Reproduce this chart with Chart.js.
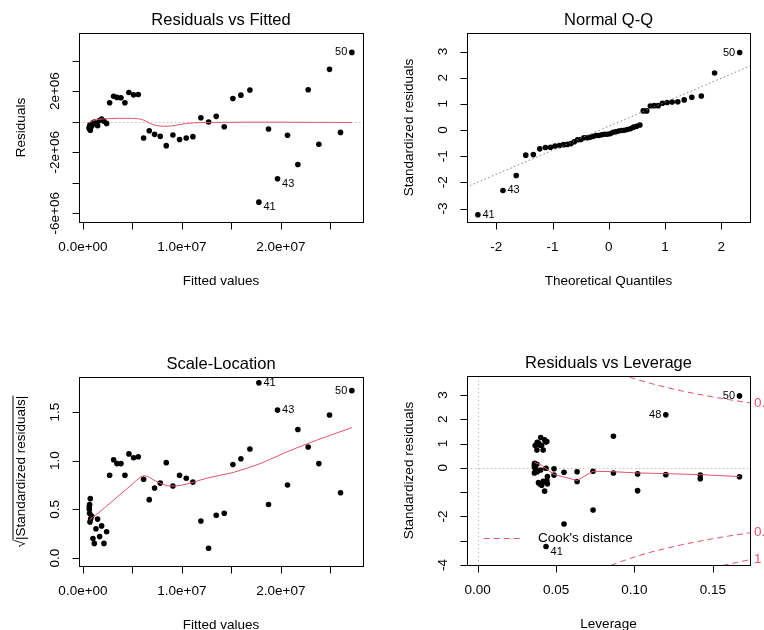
<!DOCTYPE html>
<html><head><meta charset="utf-8">
<script src="https://cdn.jsdelivr.net/npm/chart.js@4/dist/chart.umd.min.js"></script>
<style>
html,body{margin:0;padding:0;background:#fff;}
#wrap{position:relative;width:764px;height:630px;overflow:hidden;background:#fff;}
canvas{position:absolute;}
</style></head><body>
<div id="wrap">
<canvas id="c1" width="382" height="315" style="left:0;top:0"></canvas>
<canvas id="c2" width="382" height="315" style="left:382px;top:0"></canvas>
<canvas id="c3" width="382" height="315" style="left:0;top:315px"></canvas>
<canvas id="c4" width="382" height="315" style="left:382px;top:315px"></canvas>
</div>
<script>
// ---------- DATA (observations 1..50) ----------
const fittedValues = [741000, 673000, 640000, 640000, 673000, 707000, 774000, 875000, 1010000, 1145000,
  1313000, 1481000, 1684000, 1886000, 2121000, 2391000, 2694000, 3098000, 3434000, 3838000,
  4242000, 4646000, 5118000, 5589000, 6128000, 6700000, 7239000, 7811000, 8418000, 9091000,
  9764000, 10438000, 11111000, 11919000, 12694000, 13468000, 14276000, 15152000, 15960000, 16869000,
  17778000, 18754000, 19663000, 20673000, 21717000, 22761000, 23838000, 24916000, 26027000, 27172000];
const residualValues = [-560000, -460000, -440000, -390000, -330000, -220000, -260000, -290000, -65000, -30000,
  -150000, -260000, 80000, 180000, 30000, -110000, 1240000, 1670000, 1590000, 1565000,
  1240000, 1910000, 1760000, 1780000, -1070000, -590000, -830000, -960000, -1570000, -870000,
  -1170000, -1070000, -980000, 260000, -20000, 350000, -330000, 1520000, 1740000, 2070000,
  -5270000, -480000, -3740000, -890000, -2800000, 2090000, -1480000, 3430000, -700000, 4540000];
const sqrtAbsStdResiduals = [0.61, 0.55, 0.53, 0.50, 0.46, 0.37, 0.40, 0.43, 0.20, 0.15,
  0.30, 0.40, 0.22, 0.33, 0.15, 0.27, 0.85, 1.01, 0.97, 0.97,
  0.85, 1.07, 1.03, 1.04, 0.81, 0.60, 0.72, 0.77, 0.98, 0.74,
  0.85, 0.82, 0.78, 0.38, 0.10, 0.44, 0.46, 0.96, 1.02, 1.12,
  1.80, 0.55, 1.52, 0.75, 1.32, 1.14, 0.97, 1.47, 0.67, 1.72];
const stdResiduals = [-0.37, -0.30, -0.28, -0.25, -0.21, -0.14, -0.16, -0.18, -0.04, -0.02,
  -0.09, -0.16, 0.05, 0.11, 0.02, -0.07, 0.73, 1.02, 0.93, 0.93,
  0.73, 1.15, 1.07, 1.08, -0.66, -0.36, -0.52, -0.59, -0.96, -0.55,
  -0.72, -0.67, -0.61, 0.145, -0.01, 0.19, -0.21, 0.92, 1.05, 1.25,
  -3.24, -0.30, -2.31, -0.56, -1.74, 1.30, -0.94, 2.18, -0.45, 2.96];
const leverageValues = [0.167, 0.142, 0.120, 0.102, 0.0866, 0.0736, 0.0634, 0.0551, 0.0487, 0.0436,
  0.0402, 0.0380, 0.0367, 0.0362, 0.0363, 0.0369, 0.0378, 0.0388, 0.0398, 0.0408,
  0.0418, 0.0427, 0.0435, 0.0441, 0.0445, 0.0445, 0.0441, 0.0435, 0.0427, 0.0418,
  0.0408, 0.0398, 0.0388, 0.0378, 0.0369, 0.0363, 0.0362, 0.0367, 0.0380, 0.0402,
  0.0436, 0.0487, 0.0551, 0.0634, 0.0736, 0.0866, 0.102, 0.120, 0.142, 0.167];

// Normal Q-Q
const theoreticalQuantiles = [-2.3263, -1.8808, -1.6449, -1.4758, -1.3408, -1.2265, -1.1264, -1.0364, -0.9542, -0.8779,
  -0.8064, -0.7388, -0.6745, -0.6128, -0.5534, -0.4959, -0.4399, -0.3853, -0.3319, -0.2793,
  -0.2275, -0.1764, -0.1257, -0.0753, -0.0251, 0.0251, 0.0753, 0.1257, 0.1764, 0.2275,
  0.2793, 0.3319, 0.3853, 0.4399, 0.4959, 0.5534, 0.6128, 0.6745, 0.7388, 0.8064,
  0.8779, 0.9542, 1.0364, 1.1264, 1.2265, 1.3408, 1.4758, 1.6449, 1.8808, 2.3263];
const sampleQuantiles = [-3.24, -2.31, -1.74, -0.96, -0.94, -0.72, -0.67, -0.66, -0.61, -0.59,
  -0.56, -0.55, -0.52, -0.45, -0.37, -0.36, -0.30, -0.30, -0.28, -0.25,
  -0.21, -0.21, -0.18, -0.16, -0.16, -0.14, -0.09, -0.07, -0.04, -0.02,
  -0.01, 0.02, 0.05, 0.11, 0.145, 0.19, 0.73, 0.73, 0.92, 0.93,
  0.93, 1.02, 1.05, 1.07, 1.08, 1.15, 1.25, 1.30, 2.18, 2.96];
const qqLineX = [-2.6, 2.6];
const qqLineY = [-2.244, 2.53];

// smoothers (red lines)
const rfSmoothX = [640000, 1000000, 1500000, 2500000, 3500000, 4500000, 5500000, 6100000, 6600000, 7100000,
  7800000, 8500000, 9500000, 10500000, 11900000, 14000000, 17000000, 20000000, 23000000, 27172000];
const rfSmoothY = [-60000, 60000, 150000, 200000, 220000, 220000, 200000, 110000, -50000, -200000,
  -280000, -300000, -220000, -110000, -60000, -40000, -30000, -30000, -40000, -50000];
const slSmoothX = [640000, 2000000, 3500000, 5000000, 5800000, 6100000, 6500000, 7000000, 7800000, 8800000,
  9800000, 11200000, 12500000, 15200000, 17900000, 20600000, 23600000, 27172000];
const slSmoothY = [0.39, 0.50, 0.63, 0.76, 0.83, 0.845, 0.84, 0.81, 0.77, 0.74,
  0.745, 0.78, 0.82, 0.88, 0.97, 1.09, 1.21, 1.34];
const rlSmoothX = [0.0362, 0.041, 0.0453, 0.0487, 0.0551, 0.0634, 0.0736, 0.0866, 0.102, 0.120, 0.142, 0.167];
const rlSmoothY = [0.23, 0.10, -0.11, -0.27, -0.38, -0.52, -0.14, -0.16, -0.21, -0.24, -0.28, -0.36];

// Cook's distance contours
const cookHalfLev = [0.085, 0.09, 0.095, 0.10, 0.11, 0.12, 0.13, 0.14, 0.15, 0.16, 0.17, 0.175];
const cookHalfUpper = [4.02, 3.89, 3.78, 3.67, 3.48, 3.32, 3.17, 3.04, 2.92, 2.81, 2.71, 2.66];
const cookHalfLower = [-4.02, -3.89, -3.78, -3.67, -3.48, -3.32, -3.17, -3.04, -2.92, -2.81, -2.71, -2.66];
const cookOneLev = [0.15, 0.155, 0.16, 0.165, 0.17, 0.175];
const cookOneLower = [-4.12, -4.04, -3.97, -3.90, -3.83, -3.76];

// ticks
const fittedTicks = [0, 5000000, 10000000, 15000000, 20000000, 25000000];
const fittedTickLabels = ["0.0e+00", "", "1.0e+07", "", "2.0e+07", ""];
const residTicks = [-6000000, -4000000, -2000000, 0, 2000000, 4000000];
const residTickLabels = ["-6e+06", "", "-2e+06", "", "2e+06", ""];
const qqXTicks = [-2, -1, 0, 1, 2];
const qqXTickLabels = ["-2", "-1", "0", "1", "2"];
const qqYTicks = [-3, -2, -1, 0, 1, 2, 3];
const qqYTickLabels = ["-3", "-2", "-1", "0", "1", "2", "3"];
const slYTicks = [0, 0.5, 1, 1.5];
const slYTickLabels = ["0.0", "0.5", "1.0", "1.5"];
const levTicks = [0, 0.05, 0.10, 0.15];
const levTickLabels = ["0.00", "0.05", "0.10", "0.15"];
const rlYTicks = [-4, -3, -2, -1, 0, 1, 2, 3];
const rlYTickLabels = ["-4", "", "-2", "", "0", "1", "2", "3"];

// ---------- RENDERING ----------
const FONT = '"Liberation Sans", Arial, Helvetica, sans-serif';
const RED = '#DF536B';
const AX = '13.5px ';

function zipXY(xs, ys){ return xs.map((x,i)=>({x:x, y:ys[i]})); }
function interp(xs, ys, v){
  for(let i=1;i<xs.length;i++){ if(v<=xs[i]){ const t=(v-xs[i-1])/(xs[i]-xs[i-1]); return ys[i-1]+t*(ys[i]-ys[i-1]); } }
  return ys[ys.length-1];
}
function pointsDS(xs, ys){
  return {data: zipXY(xs,ys), showLine:false, pointRadius:2.8, pointHoverRadius:2.8,
    pointBackgroundColor:'#000', pointBorderColor:'#000', pointBorderWidth:0, order:3};
}
function lineDS(xs, ys, color, dash, extra){
  return Object.assign({data: zipXY(xs,ys), showLine:true, pointRadius:0, pointHoverRadius:0,
    borderColor:color, borderWidth:1, borderDash:dash||[], fill:false, tension:0, order:1}, extra||{});
}

function makePanel(id, p){
  const plugin = {
    id: 'frame',
    beforeDatasetsDraw(chart){
      const {ctx, chartArea:a, scales:{x,y}} = chart;
      ctx.save();
      (p.refLines||[]).forEach(r=>{
        ctx.strokeStyle=r.color; ctx.lineWidth=1; ctx.setLineDash(r.dash);
        ctx.beginPath();
        if(r.h!==undefined){ const py=Math.round(y.getPixelForValue(r.h))+0.5; ctx.moveTo(a.left,py); ctx.lineTo(a.right,py); }
        else { const px=Math.round(x.getPixelForValue(r.v))+0.5; ctx.moveTo(px,a.top); ctx.lineTo(px,a.bottom); }
        ctx.stroke();
      });
      ctx.restore();
    },
    afterDraw(chart){
      const {ctx, chartArea:a, scales:{x,y}} = chart;
      ctx.save();
      ctx.setLineDash([]);
      ctx.strokeStyle='#000'; ctx.lineWidth=1;
      const L=Math.round(a.left)+0.5, T=Math.round(a.top)+0.5, R=Math.round(a.right)+0.5, B=Math.round(a.bottom)+0.5;
      ctx.strokeRect(L,T,R-L,B-T);
      ctx.beginPath();
      p.xTicks.forEach(v=>{ const px=Math.round(x.getPixelForValue(v))+0.5; ctx.moveTo(px,B); ctx.lineTo(px,B+7); });
      ctx.stroke();
      ctx.beginPath();
      p.yTicks.forEach(v=>{ const py=Math.round(y.getPixelForValue(v))+0.5; ctx.moveTo(L-7,py); ctx.lineTo(L,py); });
      ctx.stroke();
      ctx.fillStyle='#000';
      ctx.font=AX+FONT; ctx.textAlign='center'; ctx.textBaseline='middle';
      p.xTicks.forEach((v,i)=>{ if(p.xTickLabels[i]) ctx.fillText(p.xTickLabels[i], x.getPixelForValue(v), a.bottom+25.5); });
      p.yTicks.forEach((v,i)=>{
        if(!p.yTickLabels[i]) return;
        ctx.save(); ctx.translate(a.left-23.5, y.getPixelForValue(v)); ctx.rotate(-Math.PI/2);
        ctx.fillText(p.yTickLabels[i], 0, 0); ctx.restore();
      });
      ctx.fillText(p.xTitle, (a.left+a.right)/2, a.bottom+59);
      ctx.save(); ctx.translate(a.left-58, (a.top+a.bottom)/2); ctx.rotate(-Math.PI/2);
      if(p.sqrtTitle){
        ctx.textAlign='left';
        const s1='\u221A', s2=p.yTitle;
        const w1=ctx.measureText(s1).width, w2=ctx.measureText(s2).width;
        const x0=-(w1+w2)/2;
        ctx.fillText(s1,x0,0); ctx.fillText(s2,x0+w1,0);
        ctx.beginPath(); ctx.moveTo(x0+w1-0.5,-8); ctx.lineTo(x0+w1+w2,-8); ctx.stroke();
      } else {
        ctx.fillText(p.yTitle,0,0);
      }
      ctx.restore();
      ctx.font='16.5px '+FONT;
      ctx.fillText(p.title, (a.left+a.right)/2, a.top-12.5);
      ctx.font='11px '+FONT;
      const meta = chart.getDatasetMeta(p.pointDS);
      (p.pointLabels||[]).forEach(l=>{
        const el = meta.data[l.idx];
        if(l.side==='right'){ ctx.textAlign='left'; ctx.fillText(l.text, el.x+4.5, el.y+l.dy); }
        else { ctx.textAlign='right'; ctx.fillText(l.text, el.x-4.5, el.y+l.dy); }
      });
      if(p.extra) p.extra(chart, ctx, a, x, y);
      ctx.restore();
    }
  };
  new Chart(document.getElementById(id), {
    type:'scatter',
    data:{datasets:p.datasets},
    options:{
      responsive:false, animation:false, devicePixelRatio:1, events:[],
      layout:{padding:p.pad},
      plugins:{legend:{display:false}, tooltip:{enabled:false}, title:{display:false}},
      scales:{
        x:{type:'linear', display:false, min:p.xr[0], max:p.xr[1]},
        y:{type:'linear', display:false, min:p.yr[0], max:p.yr[1]}
      }
    },
    plugins:[plugin]
  });
}

// Panel 1: Residuals vs Fitted
makePanel('c1', {
  pad:{left:79, right:19, top:33, bottom:93},
  xr:[-400000, 28300000], yr:[-6570000, 5810000],
  datasets:[ lineDS(rfSmoothX, rfSmoothY, RED, [], {cubicInterpolationMode:'monotone'}), pointsDS(fittedValues, residualValues) ],
  pointDS:1,
  refLines:[{h:0, color:'#BEBEBE', dash:[1.5,2.5]}],
  xTicks:fittedTicks, xTickLabels:fittedTickLabels, yTicks:residTicks, yTickLabels:residTickLabels,
  xTitle:'Fitted values', yTitle:'Residuals', title:'Residuals vs Fitted',
  pointLabels:[{idx:40, text:'41', side:'right', dy:5}, {idx:42, text:'43', side:'right', dy:5}, {idx:49, text:'50', side:'left', dy:0}]
});

// Panel 2: Normal Q-Q
makePanel('c2', {
  pad:{left:85, right:14, top:33, bottom:93},
  xr:[-2.52, 2.51], yr:[-3.515, 3.707],
  datasets:[ lineDS(qqLineX, qqLineY, '#7F7F7F', [1.5,2.5]), pointsDS(theoreticalQuantiles, sampleQuantiles) ],
  pointDS:1,
  xTicks:qqXTicks, xTickLabels:qqXTickLabels, yTicks:qqYTicks, yTickLabels:qqYTickLabels,
  xTitle:'Theoretical Quantiles', yTitle:'Standardized residuals', title:'Normal Q-Q',
  pointLabels:[{idx:0, text:'41', side:'right', dy:0}, {idx:1, text:'43', side:'right', dy:0}, {idx:49, text:'50', side:'left', dy:0}]
});

// Panel 3: Scale-Location
makePanel('c3', {
  pad:{left:79, right:19, top:62, bottom:64},
  xr:[-400000, 28300000], yr:[-0.082, 1.860],
  datasets:[ lineDS(slSmoothX, slSmoothY, RED, [], {cubicInterpolationMode:'monotone'}), pointsDS(fittedValues, sqrtAbsStdResiduals) ],
  pointDS:1,
  xTicks:fittedTicks, xTickLabels:fittedTickLabels, yTicks:slYTicks, yTickLabels:slYTickLabels,
  xTitle:'Fitted values', yTitle:'|Standardized residuals|', sqrtTitle:true, title:'Scale-Location',
  pointLabels:[{idx:40, text:'41', side:'right', dy:0}, {idx:42, text:'43', side:'right', dy:0}, {idx:49, text:'50', side:'left', dy:0}]
});

// Panel 4: Residuals vs Leverage
makePanel('c4', {
  pad:{left:85, right:14, top:61, bottom:65},
  xr:[-0.0068, 0.1737], yr:[-4.0, 3.78],
  datasets:[
    lineDS(rlSmoothX, rlSmoothY, RED, []),
    lineDS(cookHalfLev, cookHalfUpper, RED, [6,4], {cubicInterpolationMode:'monotone'}),
    lineDS(cookHalfLev, cookHalfLower, RED, [6,4], {cubicInterpolationMode:'monotone'}),
    lineDS(cookOneLev, cookOneLower, RED, [6,4], {cubicInterpolationMode:'monotone'}),
    pointsDS(leverageValues, stdResiduals)
  ],
  pointDS:4,
  refLines:[{h:0, color:'#BEBEBE', dash:[1.5,2.5]}, {v:0, color:'#BEBEBE', dash:[1.5,2.5]}],
  xTicks:levTicks, xTickLabels:levTickLabels, yTicks:rlYTicks, yTickLabels:rlYTickLabels,
  xTitle:'Leverage', yTitle:'Standardized residuals', title:'Residuals vs Leverage',
  pointLabels:[{idx:40, text:'41', side:'right', dy:5}, {idx:47, text:'48', side:'left', dy:0}, {idx:49, text:'50', side:'left', dy:0}],
  extra:function(chart, ctx, a, x, y){
    const xe = x.max;
    ctx.fillStyle=RED; ctx.font=AX+FONT; ctx.textAlign='left'; ctx.textBaseline='middle';
    ctx.fillText('0.5', a.right+4, y.getPixelForValue(interp(cookHalfLev, cookHalfUpper, xe)));
    ctx.fillText('0.5', a.right+4, y.getPixelForValue(interp(cookHalfLev, cookHalfLower, xe)));
    ctx.fillText('1', a.right+4, y.getPixelForValue(interp(cookOneLev, cookOneLower, xe)));
    const ly = Math.round(a.bottom-26.7)+0.5;
    ctx.strokeStyle=RED; ctx.lineWidth=1; ctx.setLineDash([6,4]);
    ctx.beginPath(); ctx.moveTo(a.left+16.7, ly); ctx.lineTo(a.left+53.3, ly); ctx.stroke();
    ctx.setLineDash([]);
    ctx.fillStyle='#000';
    ctx.fillText("Cook's distance", a.left+71, ly);
  }
});
</script>
</body></html>
